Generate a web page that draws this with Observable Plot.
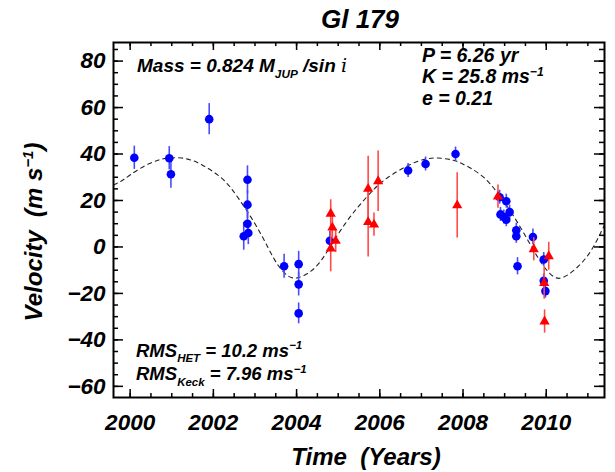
<!DOCTYPE html>
<html><head><meta charset="utf-8">
<script src="https://cdn.jsdelivr.net/npm/d3@7"></script>
<script src="https://cdn.jsdelivr.net/npm/@observablehq/plot@0.6"></script>
<style>
body{margin:0;background:#fff;}
svg text{font-family:"Liberation Sans",Arial,sans-serif;font-weight:bold;font-style:italic;}
</style></head><body><div id="chart"></div>
<script>
// Keck (blue circles)
const keckYear = [2000.10,2000.94,2000.98,2001.90,2002.82,2002.82,2002.82,2002.84,2002.73,2003.70,2004.05,2004.05,2004.05,2004.80,2006.68,2007.10,2007.82,2008.88,2009.04,2008.90,2009.12,2009.04,2008.98,2009.28,2009.28,2009.31,2009.68,2009.94,2009.94,2009.98];
const keckVel  = [38.4,38.2,31.3,55.0,28.9,18.2,10.0,6.0,4.6,-8.3,-7.4,-16.1,-28.6,2.7,32.9,35.7,40.0,21.4,19.7,14.0,15.0,11.7,12.9,7.2,4.6,-8.3,4.3,-5.4,-14.6,-19.0];
const keckErr  = [5,5,6,6.7,6,6,5,5,6,5.2,5.5,5,4.5,4,3,3,3,3,3,3,3,3,3,3,3,3.7,3.4,3,3,3];
// HET (red triangles)
const hetYear = [2004.82,2004.86,2004.94,2004.82,2005.72,2005.72,2005.86,2005.96,2007.86,2008.84,2009.70,2010.06,2009.95,2009.96];
const hetVel  = [14.3,8.3,2.6,-0.7,25.0,10.7,9.6,28.3,17.9,21.7,-1.0,-4.0,-15.5,-32.1];
const hetErr  = [6,5,5,10,14,15,5,13,14,5,5,6,7,5];
// Keplerian fit curve
const curveYear = [1999.6,1999.8,2000.0,2000.36,2000.7,2000.94,2001.24,2001.5,2001.72,2002.2,2002.6,2003.0,2003.32,2003.56,2003.8,2004.04,2004.36,2004.68,2005.16,2005.72,2006.2,2006.76,2007.1,2007.4,2007.7,2007.96,2008.44,2008.84,2009.24,2009.64,2009.92,2010.2,2010.52,2011.0,2011.4];
const curveVel  = [26.7,28.5,31.0,35.0,37.5,38.3,38.3,37.2,35.4,29.6,21.0,10.0,-0.5,-8.0,-12.5,-13.2,-10.2,-3.5,9.8,22.2,30.0,35.7,37.8,38.3,37.6,36.0,30.8,23.0,12.6,0.3,-7.8,-13.0,-12.0,-3.6,9.5];
// ticks
const xLabelTicks = [2000,2002,2004,2006,2008,2010];
const xMinorTicks = [2000,2000.5,2001,2001.5,2002,2002.5,2003,2003.5,2004,2004.5,2005,2005.5,2006,2006.5,2007,2007.5,2008,2008.5,2009,2009.5,2010,2010.5,2011];
const yLabelTicks = [-60,-40,-20,0,20,40,60,80];
const yMinorTicks = [-60,-55,-50,-45,-40,-35,-30,-25,-20,-15,-10,-5,0,5,10,15,20,25,30,35,40,45,50,55,60,65,70,75,80,85];

const keck = keckYear.map((x,i)=>({x, y:keckVel[i], e:keckErr[i]}));
const het = hetYear.map((x,i)=>({x, y:hetVel[i], e:hetErr[i]}));
const curve = curveYear.map((x,i)=>({x, y:curveVel[i]}));

const W=615, H=472, mL=113, mR=11, mT=42, mB=75;
const pw=W-mL-mR, ph=H-mT-mB;

const chart = Plot.plot({
  width:W, height:H, marginLeft:mL, marginRight:mR, marginTop:mT, marginBottom:mB,
  x:{domain:[1999.6,2011.4]},
  y:{domain:[-64.8,88]},
  style:{background:"#fff", color:"#000"},
  marks:[
    Plot.axisX(xLabelTicks,{tickSize:0,tickPadding:17,fontSize:22.5,tickFormat:d=>String(d),label:null}),
    Plot.axisY(yLabelTicks,{tickSize:0,tickPadding:8,fontSize:22.5,label:null}),
    Plot.line(curve,{x:"x",y:"y",curve:"natural",stroke:"#222",strokeWidth:1.1,strokeDasharray:"4,4"}),
    Plot.ruleX(keck,{x:"x",y1:d=>d.y-d.e,y2:d=>d.y+d.e,stroke:"#4a4aff",strokeWidth:1.6}),
    Plot.dot(keck,{x:"x",y:"y",r:4.3,fill:"#0000ff",stroke:"none"}),
    Plot.ruleX(het,{x:"x",y1:d=>d.y-d.e,y2:d=>d.y+d.e,stroke:"#ff4a4a",strokeWidth:1.6}),
    Plot.dot(het,{x:"x",y:"y",symbol:"triangle",r:3.8,fill:"#ff0000",stroke:"none"}),
    // frame ticks (inward, all four sides)
    Plot.tickX(xMinorTicks,{x:d=>d,insetTop:ph-4,stroke:"#000",strokeWidth:1.5}),
    Plot.tickX(xMinorTicks,{x:d=>d,insetBottom:ph-4,stroke:"#000",strokeWidth:1.5}),
    Plot.tickX(xLabelTicks,{x:d=>d,insetTop:ph-8,stroke:"#000",strokeWidth:1.5}),
    Plot.tickX(xLabelTicks,{x:d=>d,insetBottom:ph-8,stroke:"#000",strokeWidth:1.5}),
    Plot.tickY(yMinorTicks,{y:d=>d,insetRight:pw-5,stroke:"#000",strokeWidth:1.5}),
    Plot.tickY(yMinorTicks,{y:d=>d,insetLeft:pw-5,stroke:"#000",strokeWidth:1.5}),
    Plot.tickY(yLabelTicks,{y:d=>d,insetRight:pw-10,stroke:"#000",strokeWidth:1.5}),
    Plot.tickY(yLabelTicks,{y:d=>d,insetLeft:pw-10,stroke:"#000",strokeWidth:1.5}),
    Plot.frame({stroke:"#000",strokeWidth:2})
  ]
});
document.getElementById("chart").appendChild(chart);

const svg = d3.select(chart);
function rich(x, y, size, parts, opts={}){
  const t = svg.append("text").attr("x",x).attr("y",y).attr("font-size",size)
    .attr("text-anchor",opts.anchor||"start").attr("fill","#000").style("white-space","pre");
  if (opts.transform) t.attr("transform",opts.transform);
  let cur = 0;
  for (const [s,k,fam] of parts){
    const off = k==="sub" ? size*0.3 : k==="sup" ? -size*0.38 : 0;
    const ts = t.append("tspan").attr("dy",off-cur).attr("font-size",k==="n"?size:size*0.62).text(s);
    if (fam) ts.style("font-family",fam).style("font-weight","normal");
    cur = off;
  }
  return t;
}
rich(360,28,26,[["Gl 179","n"]],{anchor:"middle"});
rich(137,72,19,[["Mass = 0.824 M","n"],["JUP","sub"],[" /sin ","n"],["i","n","'DejaVu Serif', serif"]]);
rich(422,61.5,19.5,[["P = 6.26 yr","n"]]);
rich(422,83,19.5,[["K = 25.8 ms","n"],["−1","sup"]]);
rich(422,104.5,19.5,[["e = 0.21","n"]]);
rich(136,356.5,18.5,[["RMS","n"],["HET","sub"],[" = 10.2 ms","n"],["−1","sup"]]);
rich(136,380,18.5,[["RMS","n"],["Keck","sub"],[" = 7.96 ms","n"],["−1","sup"]]);
rich(366,465,24,[["Time  (Years)","n"]],{anchor:"middle"});
rich(0,0,24,[["Velocity  (m s","n"],["−1","sup"],[")","n"]],{anchor:"middle",transform:"translate(42,232) rotate(-90)"});
</script></body></html>
